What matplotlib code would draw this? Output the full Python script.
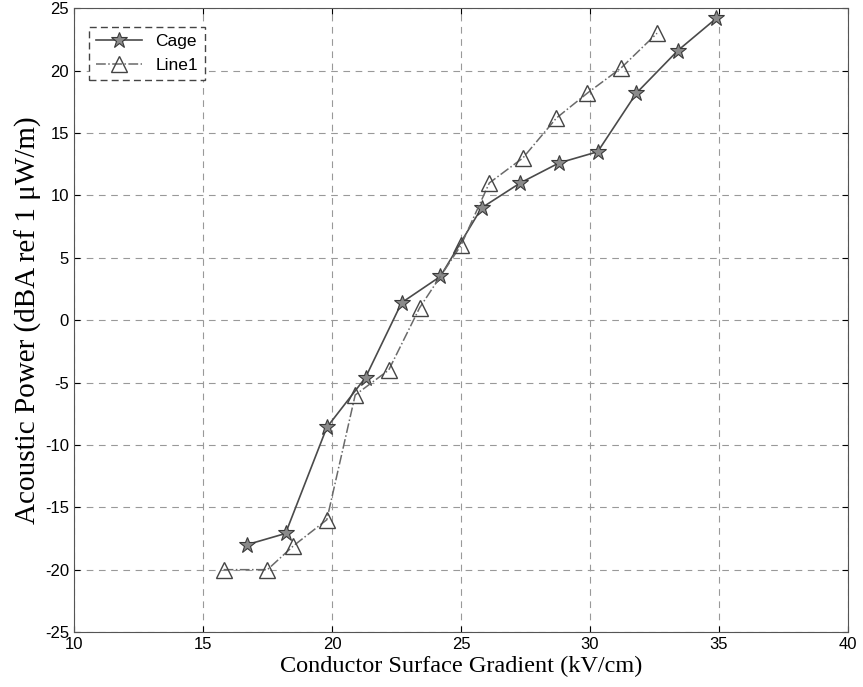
import matplotlib.pyplot as plt
import numpy as np

plt.rcParams['axes.unicode_minus'] = False

# Cage series (stars)
cage_x = [16.7, 18.2, 19.8, 21.3, 22.7, 24.2, 25.8, 27.3, 28.8, 30.3, 31.8, 33.4, 34.9]
cage_y = [-18.0, -17.1, -8.6, -4.6, 1.4, 3.5, 9.0, 11.0, 12.6, 13.5, 18.2, 21.6, 24.2]

# Line1 series (triangles)
line1_x = [15.8, 17.5, 18.5, 19.8, 20.9, 22.2, 23.4, 25.0, 26.1, 27.4, 28.7, 29.9, 31.2, 32.6]
line1_y = [-20.0, -20.0, -18.1, -16.0, -6.0, -4.0, 1.0, 6.0, 11.0, 13.0, 16.2, 18.2, 20.2, 23.0]

xticks = [10, 15, 20, 25, 30, 35, 40]
yticks = [-25, -20, -15, -10, -5, 0, 5, 10, 15, 20, 25]

fig = plt.figure(figsize=(8.63, 6.87), dpi=100)
ax = fig.add_axes([0.0857, 0.080, 0.8969, 0.908])

ax.plot(cage_x, cage_y, color='#4a4a4a', lw=1.2, marker='*', ms=12,
        mfc='#8a8a8a', mec='#3a3a3a', mew=0.8, label='Cage')
ax.plot(line1_x, line1_y, color='#6a6a6a', lw=1.1, ls='-.', marker='^', ms=12,
        mfc='none', mec='#444444', mew=1.0, label='Line1')

ax.set_xlim(10, 40)
ax.set_ylim(-25, 25)
ax.set_xticks(xticks)
ax.set_yticks(yticks)
ax.grid(True, ls=(0, (6, 5)), color='#999999', lw=0.8)
ax.tick_params(direction='in', length=4, labelsize=12, top=True, right=True)
for lab in ax.get_xticklabels() + ax.get_yticklabels():
    lab.set_family('Liberation Sans')
for sp in ax.spines.values():
    sp.set_color('#555555')

ax.set_xlabel('Conductor Surface Gradient (kV/cm)', family='Liberation Serif',
              fontsize=17.5, labelpad=3)
ax.set_ylabel('Acoustic Power (dBA ref 1 μW/m)', family='Liberation Serif',
              fontsize=21, labelpad=2)

leg = ax.legend(loc='upper left', bbox_to_anchor=(0.02, 0.97), fancybox=False,
                edgecolor='#444444', framealpha=1, handlelength=2.6,
                borderaxespad=0, prop={'family': 'Liberation Sans', 'size': 12.5})
leg.get_frame().set_linestyle((0, (5, 3)))

fig.savefig('out.png', dpi=100)
